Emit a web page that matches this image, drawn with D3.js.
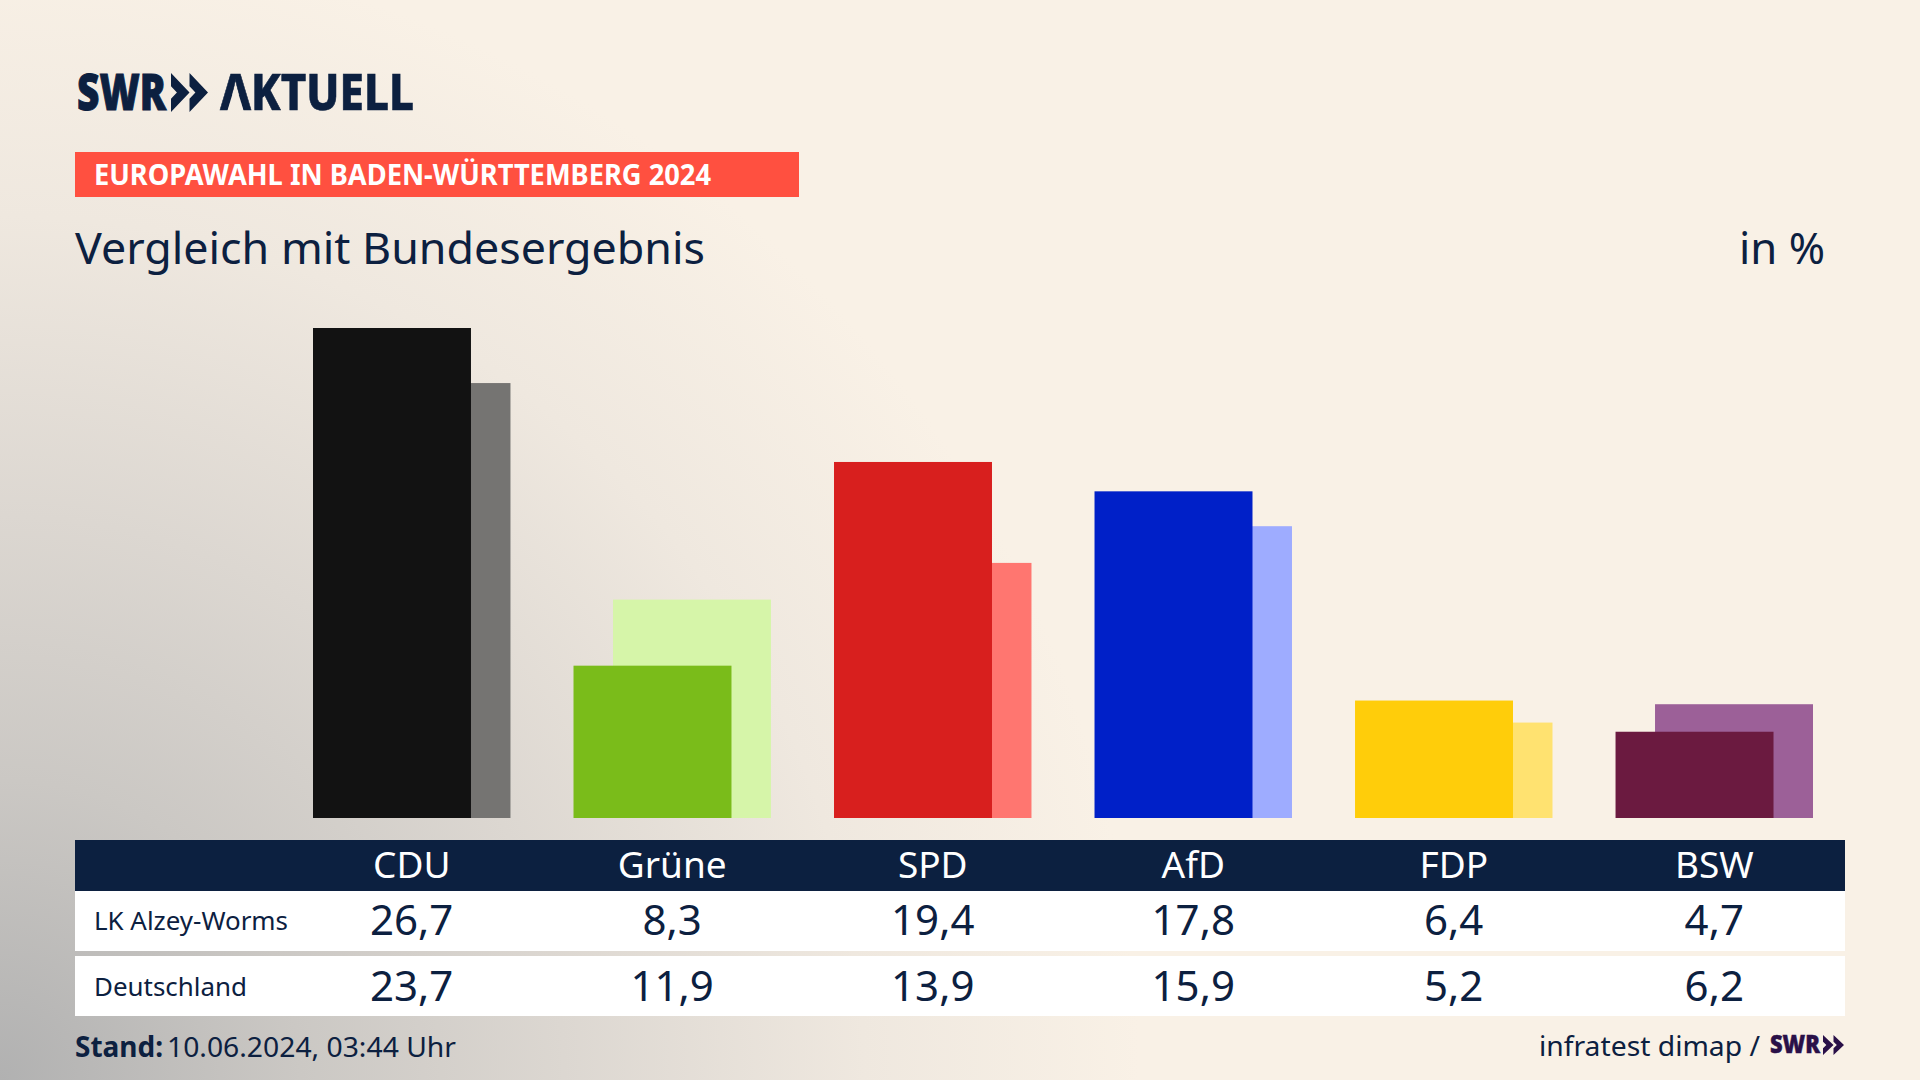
<!DOCTYPE html>
<html lang="de">
<head>
<meta charset="utf-8">
<title>Europawahl in Baden-Württemberg 2024</title>
<script src="https://cdn.jsdelivr.net/npm/d3@7"></script>
<style>
  html, body { margin: 0; padding: 0; background: #f9f1e6; overflow: hidden; }
  svg { display: block; }
  text { font-family: "Noto Sans", sans-serif; fill: #0c2040; }
</style>
</head>
<body>
<svg id="chart" width="1920" height="1080"></svg>
<script>
const parties = ["CDU", "Grüne", "SPD", "AfD", "FDP", "BSW"];
const lkValues = [26.7, 8.3, 19.4, 17.8, 6.4, 4.7];
const deValues = [23.7, 11.9, 13.9, 15.9, 5.2, 6.2];
const rowLabels = ["LK Alzey-Worms", "Deutschland"];
const lkColors = ["#121212", "#7abc1a", "#d81f1e", "#0020c8", "#ffcd0a", "#6b1a40"];
const deColors = ["#757472", "#d6f5a9", "#ff7670", "#9eacff", "#ffe270", "#9c6098"];

const navy = "#0c2040";
const svg = d3.select("#chart");
const fmt = v => v.toFixed(1).replace(".", ",");

// background, grey corner bottom left
const defs = svg.append("defs");
const bg = defs.append("radialGradient")
  .attr("id", "bg")
  .attr("gradientUnits", "userSpaceOnUse")
  .attr("cx", 0).attr("cy", 1080).attr("r", 1200);
[[0, "#b1b1b1"], [0.25, "#cbc8c4"], [0.47, "#dcd7d1"], [0.72, "#efe8df"], [0.95, "#f9f1e6"]]
  .forEach(s => bg.append("stop").attr("offset", s[0]).attr("stop-color", s[1]));
svg.append("rect").attr("width", 1920).attr("height", 1080).attr("fill", "url(#bg)");

// the logo A has no crossbar, cut it out of the text
const logoMask = defs.append("mask")
  .attr("id", "logoA")
  .attr("maskUnits", "userSpaceOnUse")
  .attr("x", 200).attr("y", 60).attr("width", 240).attr("height", 70);
logoMask.append("rect").attr("x", 200).attr("y", 60).attr("width", 240).attr("height", 70).attr("fill", "#fff");
logoMask.append("path").attr("d", "M235.5,84L244,112L227,112Z").attr("fill", "#000");

function label(text, x, y, size, opts = {}) {
  const fill = opts.fill || navy;
  const t = svg.append("text")
    .attr("x", x).attr("y", y)
    .attr("font-size", size)
    .attr("font-weight", opts.weight || 400)
    .attr("text-anchor", opts.anchor || "start")
    .style("fill", fill)
    .text(text);
  if (opts.len) t.attr("textLength", opts.len).attr("lengthAdjust", "spacingAndGlyphs");
  if (opts.stroke) t.attr("stroke", fill).attr("stroke-width", opts.stroke);
  return t;
}

function chevrons(x, y, w, h, fill) {
  const cw = w / 2;
  [0, cw].forEach(dx => {
    const p = d3.path();
    p.moveTo(x + dx, y);
    p.lineTo(x + dx + cw, y + h / 2);
    p.lineTo(x + dx, y + h);
    p.lineTo(x + dx, y + h * 0.66);
    p.lineTo(x + dx + cw * 0.32, y + h / 2);
    p.lineTo(x + dx, y + h * 0.34);
    p.closePath();
    svg.append("path").attr("d", p.toString()).attr("fill", fill);
  });
}

// logo
label("SWR", 77, 110, 49, { weight: 900, len: 89, stroke: 1 });
chevrons(171, 73, 37, 39, navy);
label("AKTUELL", 220, 110, 49, { weight: 800, len: 194, stroke: 0.6 }).attr("mask", "url(#logoA)");

// headings
svg.append("rect").attr("x", 75).attr("y", 152).attr("width", 724).attr("height", 45).attr("fill", "#ff5040");
label("EUROPAWAHL IN BADEN-WÜRTTEMBERG 2024", 94, 185, 28, { weight: 700, fill: "#fff", len: 617 });
label("Vergleich mit Bundesergebnis", 75, 264, 44, { len: 630 });
label("in %", 1825, 264, 44, { anchor: "end", len: 86 });

// scales
const x = d3.scaleBand()
  .domain(parties)
  .range([313, 1813])
  .paddingInner(0.242);
const barWidth = x.bandwidth() * 0.8;
const offset = d3.scalePoint().domain(["lk", "de"]).range([0, x.bandwidth() - barWidth]);
const y = d3.scaleLinear().domain([0, 26.7]).range([818, 328]);

// national bars behind, district bars in front
svg.append("g").selectAll("rect")
  .data(parties)
  .join("rect")
  .attr("x", d => x(d) + offset("de"))
  .attr("y", (d, i) => y(deValues[i]))
  .attr("width", barWidth)
  .attr("height", (d, i) => y(0) - y(deValues[i]))
  .attr("fill", (d, i) => deColors[i]);

svg.append("g").selectAll("rect")
  .data(parties)
  .join("rect")
  .attr("x", d => x(d) + offset("lk"))
  .attr("y", (d, i) => y(lkValues[i]))
  .attr("width", barWidth)
  .attr("height", (d, i) => y(0) - y(lkValues[i]))
  .attr("fill", (d, i) => lkColors[i]);

// table
svg.append("rect").attr("x", 75).attr("y", 840).attr("width", 1770).attr("height", 51).attr("fill", navy);
svg.append("rect").attr("x", 75).attr("y", 891).attr("width", 1770).attr("height", 60).attr("fill", "#fff");
svg.append("rect").attr("x", 75).attr("y", 956).attr("width", 1770).attr("height", 60).attr("fill", "#fff");

const header = svg.append("g")
  .attr("transform", "translate(0,878)")
  .call(d3.axisTop(x).tickSize(0).tickPadding(0));
header.select(".domain").remove();
header.selectAll("text")
  .attr("font-family", null)
  .style("font-size", "37px")
  .style("fill", "#fff");

[lkValues, deValues].forEach((values, r) => {
  const base = [935, 1001][r];
  label(rowLabels[r], 94, base - 5, 26, { len: [194, 153][r] });
  svg.append("g").selectAll("text")
    .data(values)
    .join("text")
    .attr("x", (d, i) => x(parties[i]) + x.bandwidth() / 2)
    .attr("y", base)
    .attr("text-anchor", "middle")
    .attr("font-size", 42)
    .style("fill", navy)
    .text(fmt);
});

// footer
label("Stand:", 75, 1057, 28, { weight: 700, len: 88 });
label("10.06.2024, 03:44 Uhr", 167, 1057, 28, { len: 289 });
label("infratest dimap /", 1539, 1056, 28, { len: 221 });
label("SWR", 1770, 1053, 24, { weight: 900, fill: "#2a1048", len: 50, stroke: 0.5 });
chevrons(1823, 1035, 21, 20, "#2a1048");
</script>
</body>
</html>
